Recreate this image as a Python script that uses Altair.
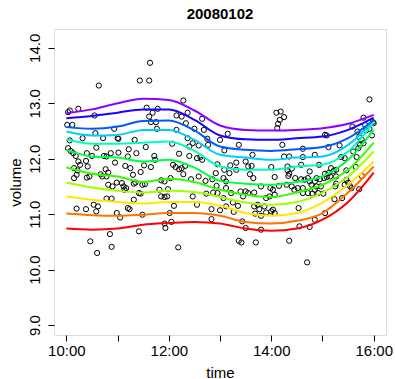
import altair as alt
import pandas as pd

# ---- scatter data: minutes after 10:00 and volume ----
point_minutes = [
    38, 2, 4, 14, 33, 1, 7, 56, 43, 60, 61, 80, 19, 4, 35, 2, 5, 8, 11, 24,
    30, 44, 47, 52, 61, 57, 72, 73, 82, 14, 23, 25, 16, 9, 13, 12, 9, 24, 27, 40,
    46, 42, 47, 49, 69, 75, 78, 81, 49, 54, 59, 65, 67, 68, 70, 79, 47, 53, 79, 32,
    37, 12, 23, 35, 59, 63, 72, 74, 51, 28, 53, 36, 34,
    98, 86, 97, 137, 94, 101, 97, 107, 99, 105, 106, 129, 135, 142, 140, 159, 150, 161, 129, 124,
    93, 142, 148, 155, 144, 165, 166, 180, 132, 144, 153, 157, 159, 177, 103, 104, 91, 99, 87, 125,
    128, 132, 135, 139, 137, 146, 155, 163, 171, 176, 175, 89, 92, 85, 87, 111, 115, 122, 109, 111,
    115, 118, 119, 148, 164, 172, 177, 126, 153, 170, 180, 89, 121, 123, 115, 116, 170, 85, 131,
    246, 251, 255, 250, 248, 247, 189, 185, 218, 253, 255, 261, 277, 199, 210, 213, 217, 240, 192, 185,
    259, 259, 264, 275, 199, 184, 187, 191, 215, 219, 244, 260, 261, 268, 275, 187, 193, 204, 207, 210,
    213, 220, 228, 239, 242, 244, 238, 234, 249, 258, 264, 267, 271, 277, 184, 195, 201, 187, 220, 224,
    226, 232, 234, 240, 244, 242, 196, 221, 228, 272, 206, 210, 228, 202, 205, 222, 261, 273, 202,
    355, 348, 335, 341, 303, 305, 307, 320, 350, 351, 355, 359, 360, 343, 346, 348, 344, 342, 336, 291,
    322, 326, 340, 358, 277, 296, 310, 313, 316, 328, 339, 285, 303, 307, 309, 305, 302, 316, 293, 297,
    283, 279, 285, 291, 316, 315, 328, 330, 326, 287, 293, 298, 291, 332, 334, 277, 283, 288, 295, 301,
    343, 323, 314, 346, 291, 303, 285, 282,
]
point_volume = [
    13.32, 12.84, 12.87, 12.90, 12.78, 12.61, 12.61, 12.54, 12.37, 12.37, 12.36, 12.34, 12.37, 12.33, 12.20, 12.19, 12.14, 12.10, 12.05, 12.10,
    12.05, 12.05, 12.04, 12.10, 12.11, 11.93, 12.04, 12.17, 12.10, 11.95, 11.96, 11.86, 11.89, 11.83, 11.79, 11.71, 11.65, 11.66, 11.68, 11.72,
    11.81, 11.68, 11.68, 11.75, 11.87, 11.83, 11.71, 11.57, 11.53, 11.50, 11.57, 11.56, 11.50, 11.44, 11.47, 11.55, 11.28, 11.28, 11.26, 11.17,
    11.14, 11.10, 11.09, 11.05, 11.02, 10.94, 11.11, 11.09, 10.64, 10.51, 10.41, 10.30, 12.46,
    13.73, 13.41, 13.41, 13.05, 12.92, 12.83, 12.76, 12.90, 12.66, 12.66, 12.54, 12.78, 12.76, 12.83, 12.64, 12.72, 12.54, 12.52, 12.52, 12.27,
    12.21, 12.37, 12.28, 12.24, 12.22, 12.36, 12.25, 12.34, 12.09, 12.05, 12.01, 12.03, 11.98, 11.90, 12.05, 11.98, 11.88, 11.85, 11.76, 11.89,
    11.85, 11.81, 11.83, 11.87, 11.72, 11.63, 11.68, 11.60, 11.63, 11.51, 11.74, 11.53, 11.54, 11.38, 11.37, 11.61, 11.59, 11.65, 11.44, 11.32,
    11.31, 11.32, 11.45, 11.32, 11.37, 11.39, 11.38, 11.15, 11.17, 11.09, 11.07, 10.99, 11.02, 10.86, 10.83, 10.75, 10.91, 10.69, 10.40,
    12.83, 12.85, 12.75, 12.70, 12.63, 12.55, 12.45, 12.15, 12.07, 12.25, 12.04, 12.04, 12.18, 11.93, 11.95, 11.86, 11.87, 11.85, 11.88, 11.80,
    11.86, 11.79, 11.82, 11.89, 11.80, 11.65, 11.59, 11.74, 11.72, 11.65, 11.67, 11.69, 11.73, 11.65, 11.63, 11.47, 11.38, 11.41, 11.32, 11.41,
    11.38, 11.39, 11.50, 11.47, 11.44, 11.35, 11.32, 11.29, 11.51, 11.53, 11.50, 11.44, 11.47, 11.47, 11.29, 11.21, 11.15, 11.14, 11.14, 11.17,
    11.09, 11.14, 11.03, 11.05, 11.02, 11.08, 11.04, 11.01, 10.97, 11.11, 10.87, 10.75, 10.72, 10.52, 10.49, 10.49, 10.52, 10.78, 12.25,
    13.07, 12.74, 12.58, 12.49, 12.43, 12.42, 12.21, 12.24, 12.61, 12.51, 12.54, 12.66, 12.64, 12.39, 12.34, 12.28, 12.25, 12.19, 12.13, 12.07,
    12.03, 12.01, 12.03, 12.42, 12.03, 11.89, 11.83, 11.78, 11.80, 11.79, 11.85, 11.77, 11.73, 11.74, 11.68, 11.67, 11.65, 11.68, 11.65, 11.63,
    11.65, 11.62, 11.59, 11.59, 11.55, 11.50, 11.62, 11.57, 11.53, 11.53, 11.50, 11.50, 11.44, 11.51, 11.47, 11.38, 11.38, 11.37, 11.38, 11.37,
    11.45, 11.29, 11.27, 11.69, 10.90, 11.02, 10.77, 10.13,
]

# ---- quantile curves, read at half-hour steps ----
curve_minutes = [0, 30, 60, 90, 120, 150, 180, 210, 240, 270, 300, 330, 360]
curve_names = ["q01", "q02", "q03", "q04", "q05", "q06", "q07", "q08", "q09", "q10", "q11"]
curve_colors = ["#FF0000", "#FF7400", "#FFE800", "#A1FF00", "#2DFF00", "#00FF47",
                "#00FFBC", "#00CEFF", "#005AFF", "#1A00FF", "#8F00FF"]
q01 = [10.74, 10.72, 10.74, 10.81, 10.84, 10.86, 10.83, 10.74, 10.70, 10.74, 10.90, 11.22, 11.75]
q02 = [11.01, 10.98, 10.97, 10.99, 11.02, 11.02, 10.97, 10.86, 10.83, 10.88, 11.02, 11.39, 11.86]
q03 = [11.32, 11.26, 11.22, 11.19, 11.22, 11.22, 11.15, 11.02, 10.97, 11.02, 11.21, 11.53, 11.95]
q04 = [11.57, 11.48, 11.42, 11.39, 11.42, 11.40, 11.31, 11.21, 11.17, 11.22, 11.39, 11.68, 12.13]
q05 = [11.84, 11.73, 11.68, 11.58, 11.64, 11.58, 11.44, 11.35, 11.31, 11.39, 11.53, 11.80, 12.29]
q06 = [12.16, 12.04, 12.02, 11.95, 11.98, 11.84, 11.60, 11.55, 11.53, 11.58, 11.68, 11.98, 12.52]
q07 = [12.35, 12.27, 12.27, 12.29, 12.31, 12.14, 11.86, 11.80, 11.80, 11.86, 11.89, 12.13, 12.65]
q08 = [12.49, 12.42, 12.43, 12.52, 12.52, 12.34, 12.07, 12.02, 11.98, 12.02, 12.04, 12.25, 12.69]
q09 = [12.57, 12.54, 12.58, 12.68, 12.69, 12.51, 12.22, 12.16, 12.14, 12.17, 12.21, 12.37, 12.70]
q10 = [12.73, 12.77, 12.83, 12.89, 12.89, 12.70, 12.42, 12.35, 12.34, 12.37, 12.40, 12.52, 12.74]
q11 = [12.82, 12.89, 13.00, 13.08, 13.06, 12.87, 12.60, 12.52, 12.51, 12.52, 12.55, 12.63, 12.79]
curve_values = [q01, q02, q03, q04, q05, q06, q07, q08, q09, q10, q11]

x_ticks = [0, 60, 120, 180, 240, 300, 360]
y_ticks = [9, 10, 11, 12, 13, 14]

pts = pd.DataFrame({"minute": point_minutes, "volume": point_volume})
rows = []
for name, vals in zip(curve_names, curve_values):
    for m, v in zip(curve_minutes, vals):
        rows.append({"minute": m, "volume": v, "tau": name})
curves = pd.DataFrame(rows)

FONT = "Liberation Sans"
xscale = alt.Scale(domain=[-14.5, 374.4], nice=False, zero=False)
yscale = alt.Scale(domain=[8.82, 14.34], nice=False, zero=False)

xaxis = alt.Axis(
    values=x_ticks,
    labelExpr="datum.value % 120 == 0 ? (10 + datum.value / 60) + ':00' : ''",
    title="time", grid=False, domain=False, tickSize=6, tickColor="black",
    labelFont=FONT, labelFontSize=15, labelColor="black", labelPadding=2,
    labelFlush=False, labelOverlap=False,
    titleFont=FONT, titleFontSize=15, titleFontWeight="normal", titleColor="black",
    titleY=37, titleBaseline="middle",
)
yaxis = alt.Axis(
    values=y_ticks, title="volume", grid=False, domain=False, tickSize=6,
    tickColor="black", labelFont=FONT, labelFontSize=15, labelColor="black",
    labelAngle=270, labelAlign="center", labelBaseline="alphabetic", labelPadding=9,
    labelFlush=False, labelOverlap=False,
    titleFont=FONT, titleFontSize=15, titleFontWeight="normal", titleColor="black",
    titleX=-39, titleY=153, titleAngle=270, titleAlign="center", titleBaseline="middle",
)

points = alt.Chart(pts).mark_point(
    shape="circle", filled=False, color="black", size=27, strokeWidth=1, opacity=1
).encode(
    x=alt.X("minute:Q", scale=xscale, axis=xaxis),
    y=alt.Y("volume:Q", scale=yscale, axis=yaxis),
)

lines = alt.Chart(curves).mark_line(strokeWidth=2, interpolate="monotone").encode(
    x=alt.X("minute:Q", scale=xscale),
    y=alt.Y("volume:Q", scale=yscale),
    color=alt.Color("tau:N", scale=alt.Scale(domain=curve_names, range=curve_colors), legend=None),
    detail="tau:N",
)

chart = alt.layer(points, lines).properties(
    width=332, height=306,
    title=alt.TitleParams("20080102", font=FONT, fontSize=15, fontWeight="bold",
                          color="black", offset=11, baseline="alphabetic", anchor="middle",
                          frame="group", dy=16),
    autosize=alt.AutoSizeParams(type="none"),
    padding={"left": 54, "top": 29, "right": 9, "bottom": 44},
).configure_view(stroke="black", strokeWidth=1).configure(background="white")

chart.save("out.html", embed_options={"renderer": "svg", "actions": False})
